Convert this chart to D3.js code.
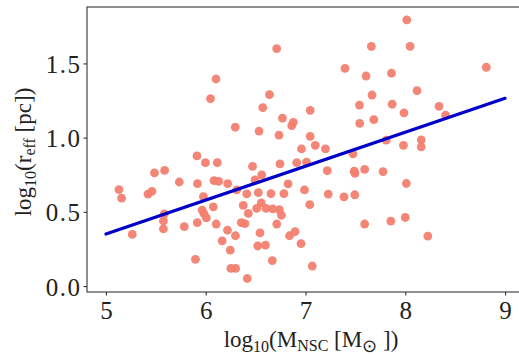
<!DOCTYPE html>
<html>
<head>
<meta charset="utf-8">
<script src="https://cdn.jsdelivr.net/npm/d3@7"></script>
<style>
    body { margin: 0; background: #fff; }
    #chart { width: 519px; height: 356px; overflow: hidden; }
    .axis text { font-family: 'Liberation Serif'; font-size: 25px; fill: #222; }
    .axis path, .axis line { stroke: #333; stroke-width: 1.1; }
    .axis-label { font-family: 'Liberation Serif'; font-size: 23px; fill: #222; }
</style>
</head>
<body>
<div id="chart"></div>
<script>
// log10(M_NSC) values
let massX = [
    6.711, 6.103, 6.048, 6.639, 6.572, 6.769, 6.878, 6.862, 6.296, 6.534,
    6.734, 6.960, 8.015, 7.660, 8.048, 7.396, 7.607, 7.862, 7.667, 7.541,
    7.869, 7.987, 7.047, 7.543, 7.685, 7.047, 7.098, 7.200, 7.809, 7.982,
    8.812, 8.118, 8.338, 8.404, 8.160, 8.160, 5.912, 5.997, 6.116, 5.486,
    5.588, 6.469, 5.130, 5.157, 5.735, 5.917, 5.421, 5.461, 6.083, 6.130,
    6.220, 5.584, 5.576, 5.576, 5.964, 5.984, 6.006, 5.977, 6.076, 6.376,
    6.427, 6.511, 6.557, 6.604, 6.672, 6.739, 6.759, 5.264, 5.785, 5.915,
    6.105, 6.356, 6.393, 6.218, 6.298, 6.165, 6.544, 6.521, 6.599, 6.246,
    5.897, 6.253, 6.300, 6.416, 6.667, 6.712, 6.840, 6.895, 6.955, 7.068,
    6.744, 6.912, 7.010, 6.561, 6.494, 6.825, 6.990, 6.310, 6.411, 6.527,
    6.654, 6.784, 7.043, 7.218, 7.488, 7.496, 7.593, 7.777, 8.011, 7.228,
    7.386, 7.494, 7.593, 7.855, 8.000, 8.226, 7.476
];

// log10(r_eff) values
let radiusY = [
    1.599, 1.395, 1.262, 1.290, 1.202, 1.132, 1.103, 1.081, 1.070, 1.044,
    1.017, 0.924, 1.793, 1.614, 1.615, 1.466, 1.415, 1.434, 1.287, 1.219,
    1.225, 1.167, 1.184, 1.096, 1.121, 1.009, 0.948, 0.924, 0.983, 0.948,
    1.474, 1.317, 1.211, 1.152, 0.985, 0.938, 0.877, 0.831, 0.831, 0.762,
    0.779, 0.806, 0.650, 0.593, 0.701, 0.690, 0.620, 0.638, 0.710, 0.705,
    0.690, 0.486, 0.439, 0.385, 0.512, 0.487, 0.459, 0.603, 0.534, 0.543,
    0.489, 0.524, 0.561, 0.523, 0.520, 0.514, 0.477, 0.348, 0.401, 0.428,
    0.418, 0.428, 0.420, 0.377, 0.339, 0.305, 0.358, 0.270, 0.276, 0.242,
    0.180, 0.119, 0.119, 0.051, 0.172, 0.418, 0.339, 0.366, 0.286, 0.135,
    0.823, 0.831, 0.835, 0.749, 0.715, 0.688, 0.648, 0.648, 0.621, 0.630,
    0.622, 0.623, 0.548, 0.777, 0.774, 0.759, 0.786, 0.771, 0.691, 0.620,
    0.601, 0.615, 0.418, 0.438, 0.462, 0.337, 0.891
];

// fitted line end points
let fitX = [5, 9];
let fitY = [0.35, 1.265];

let xTicks = [5, 6, 7, 8, 9];
let yTicks = [0.0, 0.5, 1.0, 1.5];

let points = massX.map((d, i) => ({x: d, y: radiusY[i]}));
let fitLine = fitX.map((d, i) => ({x: d, y: fitY[i]}));

let margin = {top: 7, left: 87};
let width = 434;   // right spine falls just outside the window
let height = 285;

let svg = d3.select("#chart").append("svg")
    .attr("width", 519)
    .attr("height", 356);

let g = svg.append("g")
    .attr("transform", `translate(${margin.left}, ${margin.top})`);

let x = d3.scaleLinear()
    .domain([4.81, 9.16])
    .range([0, width]);

let y = d3.scaleLinear()
    .domain([-0.04, 1.88])
    .range([height, 0]);

// points
g.append("g")
    .selectAll("circle")
    .data(points)
    .enter()
    .append("circle")
    .attr("cx", d => x(d.x))
    .attr("cy", d => y(d.y))
    .attr("r", 4.4)
    .style("fill", "#f2806f")
    .style("fill-opacity", 0.95);

// fit line
g.append("path")
    .datum(fitLine)
    .attr("d", d3.line().x(d => x(d.x)).y(d => y(d.y)))
    .style("fill", "none")
    .style("stroke", "#0000c8")
    .style("stroke-width", 3.2)
    .style("stroke-linecap", "round");

// frame
g.append("rect")
    .attr("x", 0)
    .attr("y", 0)
    .attr("width", width)
    .attr("height", height)
    .style("fill", "none")
    .style("stroke", "#333")
    .style("stroke-width", 1.1);

// axes
let xAxis = g.append("g")
    .attr("class", "axis")
    .attr("transform", `translate(0, ${height})`)
    .call(d3.axisBottom(x).tickValues(xTicks).tickFormat(d3.format("d")).tickSize(3.5).tickPadding(6));
xAxis.select(".domain").remove();

let yAxis = g.append("g")
    .attr("class", "axis")
    .call(d3.axisLeft(y).tickValues(yTicks).tickFormat(d3.format(".1f")).tickSize(3.5).tickPadding(2));
yAxis.select(".domain").remove();
yAxis.selectAll("text").attr("letter-spacing", "1.5px").attr("dy", "0.36em");

// x axis label
let xl = svg.append("text")
    .attr("class", "axis-label")
    .attr("x", 311)
    .attr("y", 347)
    .attr("text-anchor", "middle");
xl.append("tspan").text("log");
xl.append("tspan").attr("font-size", "16px").attr("dy", 5).text("10");
xl.append("tspan").attr("dy", -5).text("(M");
xl.append("tspan").attr("font-size", "16px").attr("dy", 4).text("NSC");
xl.append("tspan").attr("dy", -4).text(" [M");
xl.append("tspan").attr("font-size", "18px").attr("dy", 5).text("⊙");
xl.append("tspan").attr("dy", -5).text(" ])");

// y axis label
let yl = svg.append("text")
    .attr("class", "axis-label")
    .attr("transform", "translate(31, 152) rotate(-90)")
    .attr("text-anchor", "middle");
yl.append("tspan").text("log");
yl.append("tspan").attr("font-size", "16px").attr("dy", 5).text("10");
yl.append("tspan").attr("dy", -5).text("(r");
yl.append("tspan").attr("font-size", "16px").attr("dy", 4).text("eff");
yl.append("tspan").attr("dy", -4).text(" [pc])");
</script>
</body>
</html>
